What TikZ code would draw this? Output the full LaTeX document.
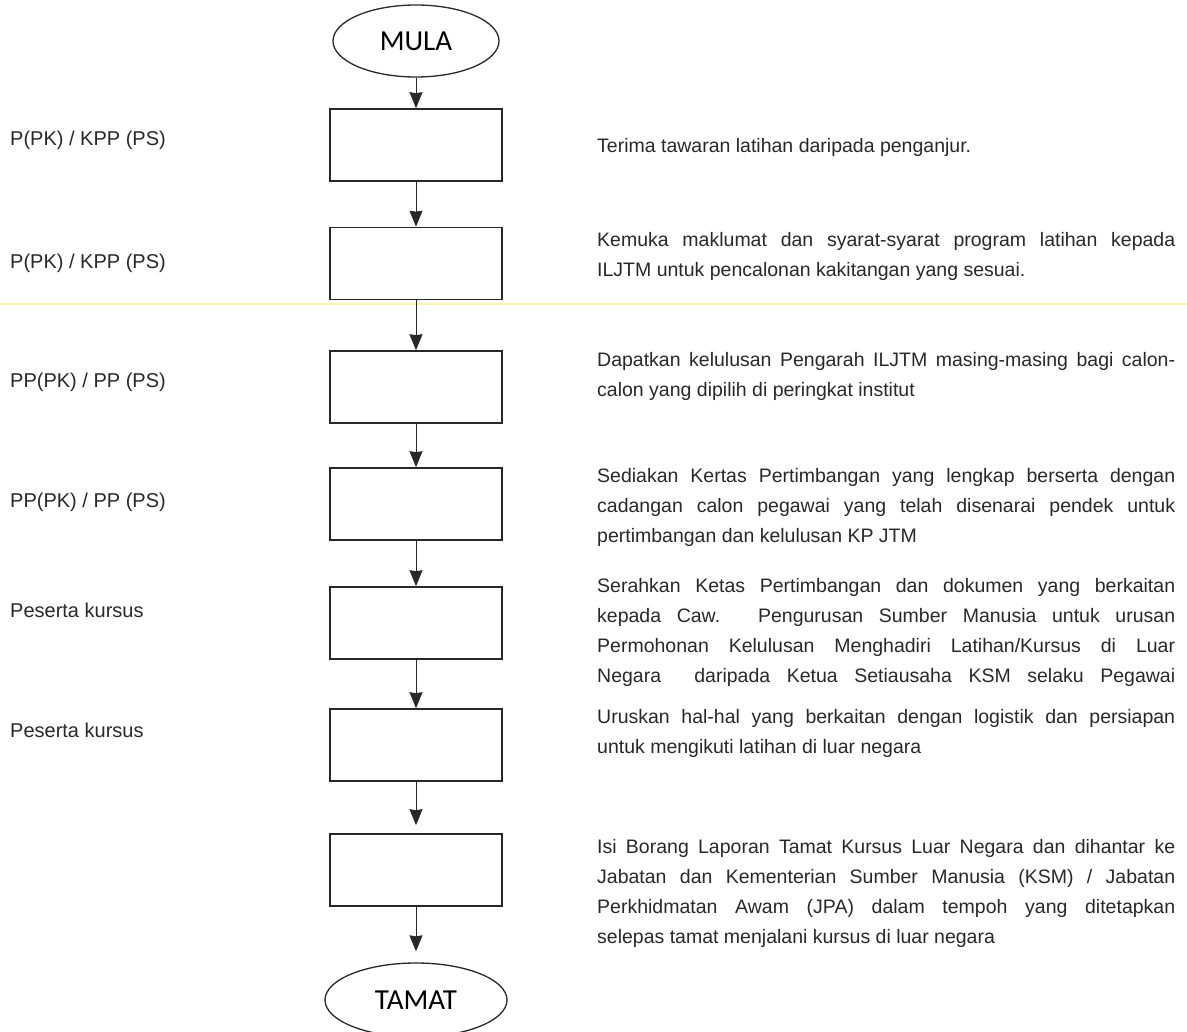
\documentclass[tikz,border=0pt]{standalone}
\usepackage{fontspec}
\setmainfont{Liberation Sans}
\newfontfamily\judulfont{Carlito}
\usetikzlibrary{shapes.geometric,arrows.meta}
\usetikzlibrary{positioning}
\definecolor{garis}{RGB}{40,40,40}
\definecolor{kuning}{RGB}{250,246,165}

\begin{document}
\begin{tikzpicture}[x=1pt,y=-1pt,
		kotak/.style={draw=garis,line width=1.6pt,minimum width=172pt,minimum height=72pt,inner sep=0pt},
		bujur/.style={ellipse,draw=garis,line width=1.3pt,minimum width=166pt,minimum height=72pt,inner sep=0pt,font=\judulfont\fontsize{29}{29}\selectfont},
		panah/.style={draw=garis,line width=0.9pt,-{Stealth[length=16pt,width=13pt,inset=1pt]}},
		peranan/.style={anchor=west,inner sep=0pt,text=garis,font=\fontsize{20}{24}\selectfont},
		ket/.style={anchor=north west,inner sep=0pt,text width=578pt,align=justify,text=garis,
			font=\fontsize{19.5}{30}\selectfont}]
		\def\kx{416}% paksi carta
		\def\tx{597}% tepi kiri keterangan
		\useasboundingbox (0,0) rectangle (1187,1032);
		% garis kuning (imbasan)
		\draw[kuning,line width=2.5pt] (0,304) -- (1187,304);
		% carta alir
		\node[bujur] (mula) at (\kx,41) {MULA};
		\node[kotak] (b1) at (\kx,145) {};
		\node[kotak] (b2) at (\kx,263.5) {};
		\node[kotak] (b3) at (\kx,387) {};
		\node[kotak] (b4) at (\kx,504) {};
		\node[kotak] (b5) at (\kx,623) {};
		\node[kotak] (b6) at (\kx,745) {};
		\node[kotak] (b7) at (\kx,870) {};
		\node[bujur,minimum width=182pt,minimum height=74pt] (tamat) at (\kx,1000) {TAMAT};
		% anak panah
		\foreach \a/\b in {mula/b1,b1/b2,b2/b3,b3/b4,b4/b5,b5/b6}
			\draw[panah] (\a) -- (\b);
		\draw[panah,shorten >=8pt] (b6) -- (b7);
		\draw[panah,shorten >=11pt] (b7) -- (tamat);
		% pegawai bertanggungjawab
		\node[peranan] (l1) at (10,140) {P(PK) / KPP (PS)};
		\node[peranan] (l2) at (10,263) {P(PK) / KPP (PS)};
		\node[peranan] (l3) at (10,382) {PP(PK) / PP (PS)};
		\node[peranan] (l4) at (10,502) {PP(PK) / PP (PS)};
		\node[peranan] (l5) at (10,610) {Peserta kursus};
		\node[peranan] (l6) at (10,730) {Peserta kursus};
		% keterangan
		\node[ket] (t1) at (\tx,138) {Terima tawaran latihan daripada penganjur.};
		\node[ket] (t2) at (\tx,232) {Kemuka maklumat dan syarat-syarat program latihan kepada\linebreak
			ILJTM untuk pencalonan kakitangan yang sesuai.};
		\node[ket] (t3) at (\tx,352) {Dapatkan kelulusan Pengarah ILJTM masing-masing bagi calon-\linebreak
			calon yang dipilih di peringkat institut};
		\node[ket] (t4) at (\tx,468) {Sediakan Kertas Pertimbangan yang lengkap berserta dengan\linebreak
			cadangan calon pegawai yang telah disenarai pendek untuk\linebreak
			pertimbangan dan kelulusan KP JTM};
		\node[ket] (t5) at (\tx,578) {Serahkan Ketas Pertimbangan dan dokumen yang berkaitan\linebreak
			kepada Caw. Pengurusan Sumber Manusia untuk urusan\linebreak
			Permohonan Kelulusan Menghadiri Latihan/Kursus di Luar\linebreak
			Negara~ daripada Ketua Setiausaha KSM selaku Pegawai\linebreak};
		\node[ket] (t6) at (\tx,709) {Uruskan hal-hal yang berkaitan dengan logistik dan persiapan\linebreak
			untuk mengikuti latihan di luar negara};
		\node[ket] (t7) at (\tx,839) {Isi Borang Laporan Tamat Kursus Luar Negara dan dihantar ke\linebreak
			Jabatan dan Kementerian Sumber Manusia (KSM) / Jabatan\linebreak
			Perkhidmatan Awam (JPA) dalam tempoh yang ditetapkan\linebreak
			selepas tamat menjalani kursus di luar negara};
	\end{tikzpicture}
\end{document}
